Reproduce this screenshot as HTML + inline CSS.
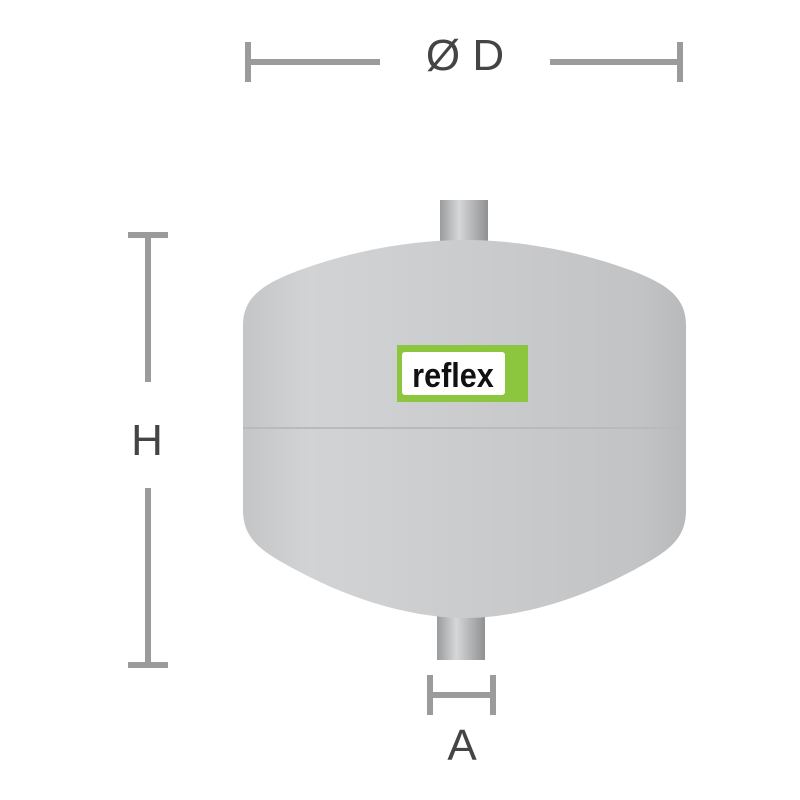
<!DOCTYPE html>
<html><head><style>body{margin:0;background:#fff}svg{display:block}</style></head><body>
<svg width="800" height="800" viewBox="0 0 800 800" xmlns="http://www.w3.org/2000/svg">
<defs>
<linearGradient id="body" x1="0" y1="0" x2="1" y2="0">
<stop offset="0" stop-color="#c4c5c7"/><stop offset="0.15" stop-color="#d2d3d5"/><stop offset="0.5" stop-color="#cbcccd"/><stop offset="0.9" stop-color="#c2c3c5"/><stop offset="1" stop-color="#b8b9bb"/>
</linearGradient>
<linearGradient id="nip" x1="0" y1="0" x2="1" y2="0">
<stop offset="0" stop-color="#9a9b9d"/><stop offset="0.4" stop-color="#d6d7d8"/><stop offset="1" stop-color="#8f9092"/>
</linearGradient>
</defs>
<g fill="none" stroke="#9b9b9b" stroke-width="6">
<path d="M248 42V82M248 62H380M550 62H680M680 42V82"/>
<path d="M128 235H168M148 235V382M148 488V665M128 665H168"/>
<path d="M430 675V715M493 675V715M430 695H493"/>
</g>
<g font-family="Liberation Sans, sans-serif" fill="#444" font-size="44">
<text x="465" y="70" text-anchor="middle">Ø D</text>
<text x="147" y="455" text-anchor="middle">H</text>
<text x="462" y="760" text-anchor="middle">A</text>
</g>
<rect x="440" y="200" width="48" height="48" fill="url(#nip)"/>
<rect x="437" y="612" width="48" height="48" fill="url(#nip)"/>
<path d="M243 325 C243 298 262 284 300 270 C360 248 420 240 465 240 C510 240 570 248 630 270 C668 284 686 298 686 325 L686 510 C686 540 668 552 630 572 C570 604 510 618 465 618 C420 618 360 604 300 572 C262 552 243 540 243 510 Z" fill="url(#body)"/>
<path d="M243 428H686" stroke="#b9babc" stroke-width="2"/>
<rect x="397" y="345" width="131" height="57" fill="#8cc63f"/>
<rect x="402" y="352" width="103" height="43" rx="3" fill="#fff"/>
<text x="453" y="387" text-anchor="middle" font-family="Liberation Sans Narrow, Liberation Sans, sans-serif" font-weight="bold" font-size="34" fill="#111" transform="translate(453 0) scale(0.9 1) translate(-453 0)">reflex</text>
</svg>
</body></html>
